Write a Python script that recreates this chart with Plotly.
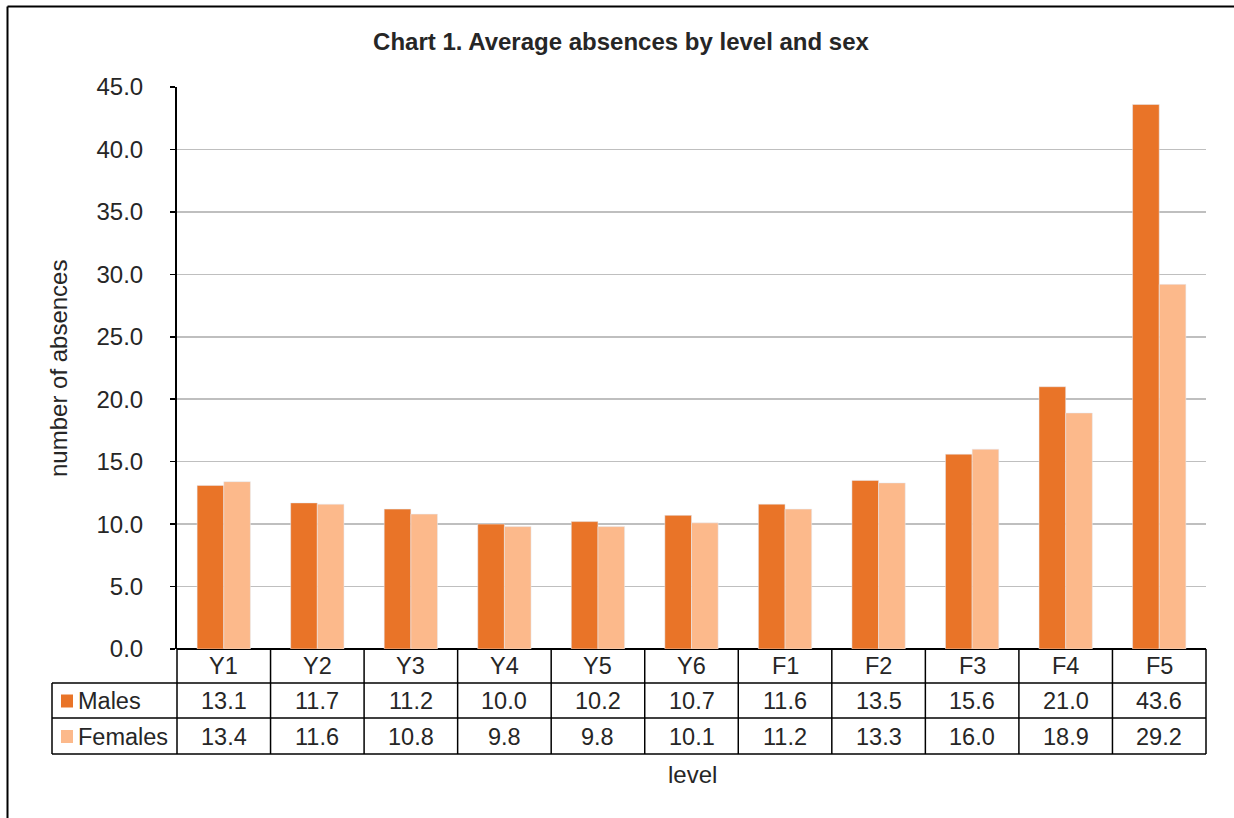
import plotly.graph_objects as go

levels = ["Y1", "Y2", "Y3", "Y4", "Y5", "Y6", "F1", "F2", "F3", "F4", "F5"]
males = [13.1, 11.7, 11.2, 10.0, 10.2, 10.7, 11.6, 13.5, 15.6, 21.0, 43.6]
females = [13.4, 11.6, 10.8, 9.8, 9.8, 10.1, 11.2, 13.3, 16.0, 18.9, 29.2]
series_names = ["Males", "Females"]
y_ticks = [0, 5, 10, 15, 20, 25, 30, 35, 40, 45]

MALE_C = "#E97428"
FEMALE_C = "#FCB98B"
FONT = "Liberation Sans, Arial, sans-serif"
TXT = "#262626"

W, H = 1234, 818
L, R, T, B = 177, 28, 87, 169
pw, ph = W - L - R, H - T - B

def px_x(x):
    return (x - L) / pw

def px_y(y):
    return (H - B - y) / ph

fig = go.Figure()
fig.add_bar(x=levels, y=males, name=series_names[0], marker_color=MALE_C, hoverinfo="skip")
fig.add_bar(x=levels, y=females, name=series_names[1], marker_color=FEMALE_C, hoverinfo="skip")

shapes = []
ann = []
n = len(levels)
y_head = px_y(683)
y_m = px_y(718)
y_f = px_y(754)
x_leg = px_x(52)
FS = 23.5

line = dict(color="#000000", width=1.5)
for i in range(n + 1):
    shapes.append(dict(type="line", xref="paper", yref="paper", x0=i / n, x1=i / n,
                       y0=0, y1=y_f, line=line))
shapes.append(dict(type="line", xref="paper", yref="paper", x0=x_leg, x1=x_leg,
                   y0=y_head, y1=y_f, line=line))
for yy in [y_head, y_m, y_f]:
    shapes.append(dict(type="line", xref="paper", yref="paper", x0=x_leg, x1=1,
                       y0=yy, y1=yy, line=line))

for j, (c, yc) in enumerate([(MALE_C, 701), (FEMALE_C, 736.5)]):
    shapes.append(dict(type="rect", xref="paper", yref="paper",
                       x0=px_x(61), x1=px_x(73), y0=px_y(yc - 6.5), y1=px_y(yc + 6.5),
                       fillcolor=c, line=dict(width=0)))
    ann.append(dict(xref="paper", yref="paper", x=px_x(76), y=px_y(yc),
                    text=series_names[j], showarrow=False, xanchor="left",
                    yanchor="middle", font=dict(size=FS, color=TXT, family=FONT)))

for i, lv in enumerate(levels):
    xc = (i + 0.5) / n
    ann.append(dict(xref="paper", yref="paper", x=xc, y=px_y(666), text=lv,
                    showarrow=False, xanchor="center", yanchor="middle",
                    font=dict(size=FS, color=TXT, family=FONT)))
    ann.append(dict(xref="paper", yref="paper", x=xc, y=px_y(701),
                    text=f"{males[i]:.1f}", showarrow=False, xanchor="center",
                    yanchor="middle", font=dict(size=FS, color=TXT, family=FONT)))
    ann.append(dict(xref="paper", yref="paper", x=xc, y=px_y(736.5),
                    text=f"{females[i]:.1f}", showarrow=False, xanchor="center",
                    yanchor="middle", font=dict(size=FS, color=TXT, family=FONT)))

ann.append(dict(xref="paper", yref="paper", x=px_x(58), y=px_y(369), text="number of absences",
                showarrow=False, textangle=-90, xanchor="center", yanchor="middle",
                font=dict(size=24, color=TXT, family=FONT)))
ann.append(dict(xref="paper", yref="paper", x=px_x(692), y=px_y(774), text="level",
                showarrow=False, xanchor="center", yanchor="middle",
                font=dict(size=24, color=TXT, family=FONT)))

shapes.append(dict(type="line", xref="paper", yref="paper", x0=px_x(7.5), x1=px_x(7.5),
                   y0=px_y(818), y1=px_y(6.5), line=dict(color="#000", width=2)))
shapes.append(dict(type="line", xref="paper", yref="paper", x0=px_x(7.5), x1=px_x(1234),
                   y0=px_y(6.5), y1=px_y(6.5), line=dict(color="#000", width=2)))

fig.update_layout(
    width=W, height=H,
    margin=dict(l=L, r=R, t=T, b=B, pad=0),
    paper_bgcolor="white", plot_bgcolor="white",
    barmode="group", bargap=0.43, bargroupgap=0,
    showlegend=False,
    hovermode=False,
    title=dict(text="<b>Chart 1. Average absences by level and sex</b>",
               xref="paper", x=px_x(621), xanchor="center",
               yref="container", y=1 - 42 / H, yanchor="middle",
               font=dict(size=24, color=TXT, family=FONT)),
    font=dict(family=FONT, color=TXT),
    shapes=shapes,
    annotations=ann,
)
fig.update_xaxes(showticklabels=False, showline=False, showgrid=False, zeroline=False,
                 range=[-0.5, n - 0.5])
fig.update_yaxes(range=[0, 45], tickvals=y_ticks, tickformat=".1f",
                 showgrid=True, gridcolor="#BFBFBF", gridwidth=1.5,
                 showline=True, linecolor="#000", linewidth=2,
                 ticks="outside", ticklen=5, tickcolor="#000", tickwidth=1.5,
                 zeroline=True, zerolinecolor="#000", zerolinewidth=2,
                 ticklabelstandoff=22,
                 tickfont=dict(size=24, color=TXT, family=FONT))

fig.write_html("out.html", config={"displayModeBar": False, "staticPlot": True},
               post_script="document.body.style.margin='0';document.body.style.overflow='hidden';")
